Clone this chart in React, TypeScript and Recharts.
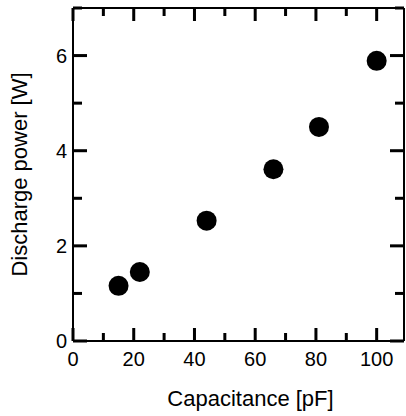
import { ScatterChart, Scatter, XAxis, YAxis } from "recharts";

const capacitance = [15, 22, 44, 66, 81, 100];
const power = [1.16, 1.45, 2.53, 3.61, 4.5, 5.89];
const xTicks = [0, 10, 20, 30, 40, 50, 60, 70, 80, 90, 100];
const yTicks = [0, 1, 2, 3, 4, 5, 6, 7];
const xLabels = [0, 20, 40, 60, 80, 100];
const yLabels = [0, 2, 4, 6];

const data = capacitance.map((c, i) => ({ c, p: power[i] }));

const FONT = "'Liberation Sans', Arial, sans-serif";
const axisLine = { stroke: "#000", strokeWidth: 2 };
const TW = 3; // tick thickness

// ticks point inwards, labels only on the major ones
function BottomTick(props: any) {
  const x = Number(props.x);
  const y = Number(props.y);
  const major = xLabels.includes(props.payload.value);
  const len = major ? 13 : 8;
  return (
    <g>
      <rect x={x - TW / 2} y={y - len} width={TW} height={len} fill="#000" />
      {major && (
        <text x={x} y={y + 25} textAnchor="middle" fontSize={20} fontFamily={FONT} fill="#000">
          {props.payload.value}
        </text>
      )}
    </g>
  );
}

function TopTick(props: any) {
  const x = Number(props.x);
  const y = Number(props.y);
  const len = xLabels.includes(props.payload.value) ? 13 : 8;
  return <rect x={x - TW / 2} y={y} width={TW} height={len} fill="#000" />;
}

function LeftTick(props: any) {
  const x = Number(props.x);
  const y = Number(props.y);
  const major = yLabels.includes(props.payload.value);
  const len = major ? 14 : 9;
  return (
    <g>
      <rect x={x} y={y - TW / 2} width={len} height={TW} fill="#000" />
      {major && (
        <text x={x - 6} y={y + 7} textAnchor="end" fontSize={20} fontFamily={FONT} fill="#000">
          {props.payload.value}
        </text>
      )}
    </g>
  );
}

function RightTick(props: any) {
  const x = Number(props.x);
  const y = Number(props.y);
  const len = yLabels.includes(props.payload.value) ? 14 : 9;
  return <rect x={x - len} y={y - TW / 2} width={len} height={TW} fill="#000" />;
}

function YTitle(props: any) {
  const { viewBox } = props;
  const cy = viewBox.y + viewBox.height / 2;
  return (
    <text
      x={27}
      y={cy}
      transform={`rotate(-90, 27, ${cy})`}
      textAnchor="middle"
      fontSize={22}
      fontFamily={FONT}
      fill="#000"
    >
      Discharge power [W]
    </text>
  );
}

export default function App() {
  return (
    <div style={{ width: 406, height: 416, background: "#fff" }}>
      <style>{"body{margin:0}"}</style>
      <ScatterChart width={406} height={416} margin={{ top: 0, right: 0, bottom: 0, left: 0 }}>
        <XAxis
          type="number"
          dataKey="c"
          domain={[0, 109]}
          ticks={xTicks}
          interval={0}
          height={75}
          tickSize={0}
          tickMargin={0}
          tickLine={false}
          axisLine={axisLine}
          tick={<BottomTick />}
          label={{
            value: "Capacitance [pF]",
            position: "insideBottom",
            offset: 10,
            dx: 12,
            fontSize: 22,
            fontFamily: FONT,
            fill: "#000",
          }}
        />
        <XAxis
          xAxisId="top"
          orientation="top"
          type="number"
          dataKey="c"
          domain={[0, 109]}
          ticks={xTicks}
          interval={0}
          height={8}
          tickSize={0}
          tickMargin={0}
          tickLine={false}
          axisLine={axisLine}
          tick={<TopTick />}
        />
        <YAxis
          type="number"
          dataKey="p"
          domain={[0, 7]}
          ticks={yTicks}
          interval={0}
          width={73}
          tickSize={0}
          tickMargin={0}
          tickLine={false}
          axisLine={axisLine}
          tick={<LeftTick />}
          label={<YTitle />}
        />
        <YAxis
          yAxisId="right"
          orientation="right"
          type="number"
          dataKey="p"
          domain={[0, 7]}
          ticks={yTicks}
          interval={0}
          width={2}
          tickSize={0}
          tickMargin={0}
          tickLine={false}
          axisLine={axisLine}
          tick={<RightTick />}
        />
        {/* invisible copy so the mirrored frame axes get ticks */}
        <Scatter
          data={data}
          xAxisId="top"
          yAxisId="right"
          isAnimationActive={false}
          shape={() => <g />}
        />
        <Scatter
          data={data}
          fill="#000"
          isAnimationActive={false}
          shape={(p: any) => <circle cx={p.cx} cy={p.cy} r={10} fill="#000" />}
        />
      </ScatterChart>
    </div>
  );
}
